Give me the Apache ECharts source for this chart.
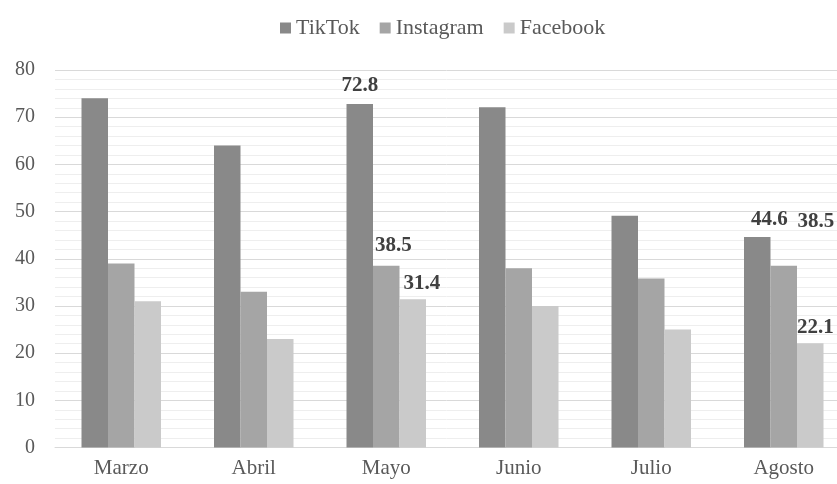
<!DOCTYPE html>
<html>
<head>
<meta charset="utf-8">
<script src="https://cdn.jsdelivr.net/npm/echarts@6/dist/echarts.min.js"></script>
<style>
  html, body { margin: 0; padding: 0; background: #fff; }
  #chart { width: 837px; height: 484px; }
</style>
</head>
<body>
<div id="chart"></div>
<script>
const months = ['Marzo', 'Abril', 'Mayo', 'Junio', 'Julio', 'Agosto'];
const tiktok = [74, 64, 72.8, 72.1, 49.1, 44.6];
const instagram = [39, 33, 38.5, 38, 35.8, 38.5];
const facebook = [31, 23, 31.4, 30, 25, 22.1];
// labelled bars: month index -> [dx, dy] nudge of the value label
const tiktokLabels = { 2: [0, 0], 5: [12, 1] };
const instagramLabels = { 2: [7, -2], 5: [32, -26] };
const facebookLabels = { 2: [9, 3], 5: [5, 3] };

const serif = '"Liberation Serif", "Times New Roman", serif';

function withLabels(values, labels) {
  return values.map((v, i) => {
    if (!(i in labels)) return v;
    return {
      value: v,
      label: {
        show: true,
        position: 'top',
        distance: 8,
        offset: labels[i],
        fontFamily: serif,
        fontSize: 21,
        fontWeight: 'bold',
        color: '#404040'
      }
    };
  });
}

const chart = echarts.init(document.getElementById('chart'));

chart.setOption({
  animation: false,
  color: ['#898989', '#a5a5a5', '#cacaca'],
  legend: {
    top: 12,
    left: 275,
    icon: 'rect',
    itemWidth: 11,
    itemHeight: 11,
    itemGap: 20,
    textStyle: { fontFamily: serif, fontSize: 22, color: '#595959' },
    data: ['TikTok', 'Instagram', 'Facebook']
  },
  grid: {
    left: 55,
    top: 70,
    bottom: 36.5,
    width: 795,
    containLabel: false,
    outerBoundsMode: 'none'
  },
  xAxis: {
    type: 'category',
    data: months,
    axisLine: { lineStyle: { color: '#d9d9d9', width: 1 } },
    axisTick: { show: false },
    axisLabel: { fontFamily: serif, fontSize: 21, color: '#595959', margin: 10 }
  },
  yAxis: {
    type: 'value',
    min: 0,
    max: 80,
    interval: 10,
    axisLine: { show: false },
    axisTick: { show: false },
    axisLabel: { fontFamily: serif, fontSize: 20, color: '#595959', margin: 20 },
    splitLine: { lineStyle: { color: '#d9d9d9', width: 1 } },
    minorTick: { show: false, splitNumber: 5 },
    minorSplitLine: { show: true, lineStyle: { color: '#eeeeee', width: 1 } }
  },
  series: [
    { name: 'TikTok', type: 'bar', barGap: '0%', barCategoryGap: '40%', data: withLabels(tiktok, tiktokLabels) },
    { name: 'Instagram', type: 'bar', barGap: '0%', barCategoryGap: '40%', data: withLabels(instagram, instagramLabels) },
    { name: 'Facebook', type: 'bar', barGap: '0%', barCategoryGap: '40%', data: withLabels(facebook, facebookLabels) }
  ]
});
</script>
</body>
</html>
